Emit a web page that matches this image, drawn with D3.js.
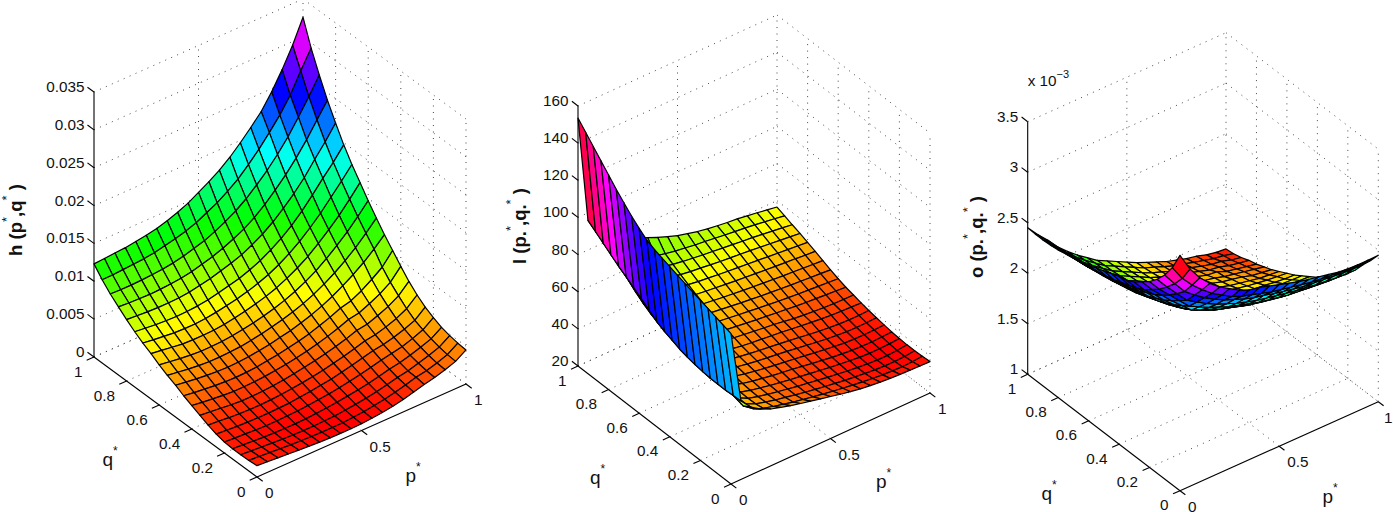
<!DOCTYPE html>
<meta charset="utf-8">
<style>
  body { margin: 0; background: #fff; }
  text { font-family: "Liberation Sans", Arial, sans-serif; fill: #111; }
</style>
<script src="https://d3js.org/d3.v7.min.js"></script>
<svg id="chart" width="1393" height="512"></svg>
<script>
// mesh positions, same for the three surfaces
const pValues = [0,0.05,0.1,0.15,0.2,0.25,0.3,0.35,0.4,0.45,0.5,0.55,0.6,0.65,0.7,0.75,0.8,0.85,0.9,0.95,1];
const qValues = [0,0.05,0.1,0.15,0.2,0.25,0.3,0.35,0.4,0.45,0.5,0.55,0.6,0.65,0.7,0.75,0.8,0.85,0.9,0.95,1];
const pTicks = [0,0.5,1];
const qTicks = [0,0.2,0.4,0.6,0.8,1];
const pTickLabels = ["0","0.5","1"];
const qTickLabels = ["0","0.2","0.4","0.6","0.8","1"];

// h(p*,q*), in units of 0.001. One row per q, one column per p
const hValues = [
[1.5,1.4,1.3,1.2,1.1,1.0,.92,.87,.85,.85,.9,1.0,1.15,1.35,1.65,2.0,2.4,2.7,3.1,3.6,4.5],
[1.4,1.3,1.2,1.1,1.0,.92,.87,.83,.83,.85,.95,1.08,1.27,1.5,1.8,2.15,2.55,2.8,3.2,3.7,4.6],
[1.35,1.25,1.15,1.05,.95,.9,.85,.85,.9,.95,1.1,1.25,1.45,1.7,2.0,2.35,2.6,3.0,3.4,3.9,4.8],
[1.35,1.25,1.15,1.05,1.0,.95,.95,1.0,1.1,1.2,1.35,1.55,1.75,2.0,2.3,2.65,2.9,3.25,3.7,4.2,5.1],
[1.45,1.35,1.3,1.2,1.15,1.15,1.2,1.25,1.35,1.5,1.65,1.85,2.1,2.4,2.7,3.05,3.3,3.6,4.05,4.6,5.6],
[1.7,1.6,1.5,1.45,1.4,1.4,1.45,1.5,1.65,1.8,2.0,2.2,2.5,2.8,3.15,3.5,3.7,4.05,4.5,5.05,6.2],
[2.1,2.0,1.85,1.75,1.7,1.7,1.75,1.85,2.0,2.15,2.35,2.6,2.9,3.2,3.6,4.0,4.2,4.6,5.1,5.8,7.0],
[2.6,2.45,2.3,2.15,2.05,2.05,2.1,2.2,2.35,2.55,2.8,3.05,3.35,3.7,4.1,4.6,4.8,5.3,5.9,6.7,8.0],
[3.1,2.9,2.75,2.6,2.5,2.5,2.55,2.65,2.8,3.0,3.25,3.5,3.85,4.25,4.7,5.25,5.5,6.1,6.8,7.7,9.2],
[3.6,3.4,3.25,3.1,3.0,2.95,3.0,3.1,3.3,3.5,3.75,4.05,4.4,4.85,5.35,5.95,6.3,7.0,7.9,8.9,10.5],
[4.2,4.0,3.8,3.65,3.55,3.5,3.55,3.65,3.85,4.05,4.35,4.65,5.05,5.5,6.05,6.7,7.5,8.35,9.35,10.5,11.8],
[4.7,4.5,4.3,4.15,4.05,4.05,4.1,4.2,4.4,4.65,4.95,5.3,5.7,6.2,6.8,7.55,8.4,9.4,10.5,11.8,13.2],
[5.3,5.1,4.9,4.75,4.65,4.65,4.7,4.85,5.05,5.3,5.6,6.0,6.45,7.0,7.7,8.5,9.5,10.6,11.8,13.2,14.7],
[6.0,5.8,5.6,5.4,5.35,5.35,5.4,5.55,5.8,6.05,6.4,6.8,7.3,7.95,8.7,9.6,10.7,11.9,13.2,14.7,16.3],
[6.6,6.4,6.25,6.1,6.05,6.05,6.15,6.35,6.6,6.9,7.25,7.7,8.25,8.95,9.8,10.8,12.0,13.3,14.8,16.3,17.9],
[7.3,7.15,7.0,6.9,6.85,6.9,7.0,7.2,7.5,7.85,8.2,8.7,9.3,10.1,11.0,12.1,13.4,14.9,16.5,18.0,19.7],
[8.1,8.0,7.9,7.85,7.85,7.9,8.05,8.3,8.6,9.0,9.4,9.9,10.6,11.4,12.4,13.6,14.9,16.4,18.2,19.9,21.8],
[9.0,8.9,8.85,8.8,8.85,8.95,9.1,9.35,9.7,10.1,10.6,11.2,11.9,12.8,13.9,15.2,16.6,18.2,20.0,22.0,24.0],
[9.9,9.85,9.85,9.9,10.0,10.1,10.3,10.6,11.0,11.4,12.0,12.7,13.5,14.5,15.7,17.0,18.5,20.2,22.2,24.3,26.55],
[11.0,11.0,11.1,11.2,11.3,11.5,11.8,12.1,12.5,13.0,13.7,14.4,15.3,16.3,17.6,19.0,20.6,22.3,24.3,26.9,29.3],
[12.3,12.4,12.5,12.6,12.8,13.0,13.3,13.7,14.2,14.8,15.6,16.4,17.3,18.4,19.7,21.1,22.6,24.6,26.9,29.5,32.6]
];

// l(p.*,q.*)
const lValues = [
[101,62.3,56.5,53,50.6,49,47.5,46.2,45,43.8,42.6,41.4,40.3,39.4,38.7,38.1,37.7,37.4,37.2,37,36.9],
[102.3,62,54,50,47.8,46.3,45,43.8,42.7,41.7,40.7,39.8,39,38.2,37.5,36.9,36.4,36.1,35.9,36.1,36.6],
[103.6,61.7,56,49.5,47,45.5,44.2,43.1,42,41,40.1,39.2,38.4,37.6,37,36.4,35.9,35.6,35.5,35.8,36.4],
[104.9,61.7,57,49.5,46.8,45.3,44,43,42,41,40.2,39.3,38.5,37.7,37,36.4,35.9,35.5,35.5,35.8,36.4],
[106.2,61.8,57.5,50,47,45.5,44.3,43.2,42.3,41.4,40.6,39.8,39,38.2,37.5,36.9,36.3,36,36,36.2,36.6],
[107.5,62.2,58,51,47.6,46,44.8,43.8,42.9,42.1,41.4,40.5,39.6,38.8,38,37.4,36.9,36.6,36.5,36.7,37],
[108.8,62.8,58.3,51.8,48.2,46.7,45.5,44.5,43.6,42.8,42.1,41.3,40.5,39.7,38.9,38.2,37.6,37.3,37.2,37.3,37.6],
[110.2,63.6,58.7,52.7,49,47.4,46.2,45.2,44.3,43.6,42.9,42.2,41.4,40.6,39.8,39.1,38.5,38.1,37.9,38,38.3],
[111.6,64.7,59.2,53.5,49.9,48.2,47,46,45.2,44.4,43.8,43.1,42.4,41.6,40.8,40.1,39.5,39,38.8,38.8,39],
[113,66.4,59.8,54.4,50.9,49.1,47.9,47,46.1,45.4,44.9,44.3,43.7,43,42.3,41.7,41.1,40.6,40.3,40.1,39.9],
[114.5,68,60.5,55.4,52,50,49,48.2,47.4,46.7,46,45.3,44.7,43.9,43,42.4,41.9,41.5,41.2,41,41],
[116.4,70,61.5,56.6,53.2,51.2,50.2,49.4,48.6,47.9,47.2,46.5,45.9,45.3,44.7,44.1,43.6,43.2,42.8,42.4,42],
[119.5,73,63,58,54.6,52.6,51.5,50.7,49.9,49.2,48.5,47.9,47.2,46.6,46,45.5,45,44.6,44.2,43.8,43.4],
[123,76,65,59.6,56.1,54.1,53,52.2,51.4,50.7,50,49.3,48.7,48.1,47.6,47.1,46.6,46.2,45.8,45.4,45],
[127,78.7,67.5,61.5,57.9,55.8,54.7,53.8,53,52.3,51.6,51,50.4,49.9,49.4,48.9,48.4,48,47.6,47.2,46.8],
[131,81.5,70.5,63.8,60,57.8,56.6,55.7,54.8,54.1,53.5,52.9,52.3,51.8,51.3,50.8,50.3,49.9,49.5,49,48.6],
[135.6,84,74,66.5,62.3,60,58.8,57.8,56.9,56.1,55.5,54.9,54.3,53.8,53.3,52.8,52.3,51.8,51.3,50.8,50.3],
[140,87,77.5,69.5,65,62.6,61.2,60.1,59.1,58.3,57.7,57,56.4,55.9,55.4,54.9,54.3,53.7,53.1,52.5,51.9],
[144.5,90,81,73,68.2,65.5,63.8,62.6,61.5,60.6,59.9,59.2,58.6,58,57.4,56.8,56.3,55.6,54.9,54.2,53.4],
[149,93,84.5,77,72,68.5,66.7,65.3,64,63,62.2,61.4,60.8,60.1,59.4,58.8,58.2,57.5,56.7,55.9,55],
[153.5,96,88,83,79,76.5,74,72,69.7,67.6,65.7,64.3,63,62,61.2,60.5,60,59.2,58.4,57.5,56.6]
];

// o(p.*,q.*), in units of 0.001
const oValues = [
[3.33,3.15,3.02,2.92,2.84,2.78,2.72,2.68,2.66,2.63,2.6,2.57,2.54,2.52,2.5,2.48,2.46,2.45,2.445,2.445,2.45],
[3.15,3.0,2.89,2.8,2.72,2.66,2.6,2.56,2.53,2.5,2.47,2.45,2.43,2.41,2.39,2.38,2.37,2.36,2.35,2.345,2.34],
[3.02,2.89,2.77,2.69,2.62,2.56,2.51,2.47,2.43,2.4,2.38,2.35,2.33,2.31,2.29,2.28,2.27,2.26,2.25,2.245,2.24],
[2.92,2.8,2.69,2.58,2.52,2.46,2.41,2.37,2.33,2.3,2.27,2.25,2.23,2.21,2.19,2.18,2.16,2.15,2.14,2.135,2.13],
[2.84,2.72,2.62,2.52,2.42,2.37,2.32,2.28,2.24,2.21,2.18,2.15,2.13,2.11,2.09,2.08,2.07,2.06,2.05,2.045,2.04],
[2.78,2.66,2.56,2.46,2.37,2.28,2.24,2.2,2.16,2.13,2.1,2.07,2.05,2.03,2.01,2,1.99,1.98,1.97,1.965,1.96],
[2.72,2.6,2.51,2.41,2.32,2.24,2.18,2.13,2.09,2.06,2.03,2,1.98,1.96,1.94,1.93,1.92,1.91,1.9,1.895,1.89],
[2.68,2.56,2.47,2.37,2.28,2.2,2.13,2.08,2.04,2,1.97,1.94,1.92,1.9,1.88,1.87,1.85,1.84,1.83,1.825,1.82],
[2.66,2.53,2.43,2.33,2.24,2.16,2.09,2.04,1.99,1.95,1.92,1.89,1.87,1.85,1.83,1.81,1.8,1.79,1.78,1.775,1.77],
[2.63,2.5,2.4,2.3,2.21,2.13,2.06,2,1.95,1.91,1.87,1.84,1.82,1.8,1.78,1.76,1.75,1.74,1.73,1.725,1.72],
[2.6,2.47,2.38,2.27,2.18,2.1,2.03,1.97,1.92,1.87,1.84,1.81,1.78,1.76,1.74,1.72,1.7,1.69,1.68,1.675,1.67],
[2.57,2.45,2.35,2.25,2.15,2.07,2,1.94,1.89,1.84,1.81,1.78,1.75,1.72,1.7,1.68,1.66,1.65,1.635,1.625,1.62],
[2.54,2.43,2.33,2.23,2.13,2.05,1.98,1.92,1.87,1.82,1.78,1.75,1.73,1.7,1.67,1.65,1.63,1.615,1.6,1.59,1.58],
[2.52,2.41,2.31,2.21,2.11,2.03,1.96,1.9,1.85,1.8,1.76,1.72,1.7,1.68,1.65,1.62,1.6,1.58,1.56,1.55,1.54],
[2.5,2.39,2.29,2.19,2.09,2.01,1.94,1.88,1.83,1.78,1.74,1.7,1.67,1.65,1.63,1.6,1.58,1.56,1.53,1.515,1.5],
[2.48,2.38,2.28,2.18,2.08,2,1.93,1.87,1.81,1.76,1.72,1.68,1.65,1.62,1.6,1.58,1.55,1.53,1.51,1.49,1.47],
[2.46,2.37,2.27,2.16,2.07,1.99,1.92,1.85,1.8,1.75,1.7,1.66,1.63,1.6,1.58,1.55,1.54,1.5,1.48,1.46,1.44],
[2.45,2.36,2.26,2.15,2.06,1.98,1.91,1.84,1.79,1.74,1.69,1.65,1.615,1.58,1.56,1.53,1.5,1.485,1.455,1.435,1.42],
[2.445,2.35,2.25,2.14,2.05,1.97,1.9,1.83,1.78,1.73,1.68,1.635,1.6,1.56,1.53,1.51,1.48,1.455,1.44,1.41,1.39],
[2.445,2.345,2.245,2.135,2.045,1.965,1.895,1.825,1.775,1.725,1.675,1.625,1.59,1.55,1.515,1.49,1.46,1.435,1.41,1.395,1.37],
[2.45,2.34,2.24,2.13,2.04,1.96,1.89,1.82,1.77,1.72,1.67,1.62,1.58,1.54,1.5,1.47,1.44,1.42,1.39,1.37,1.36]
];

const hTicks = [0,5,10,15,20,25,30,35];
const hTickLabels = ["0","0.005","0.01","0.015","0.02","0.025","0.03","0.035"];
const lTicks = [20,40,60,80,100,120,140,160];
const lTickLabels = ["20","40","60","80","100","120","140","160"];
const oTicks = [1,1.5,2,2.5,3,3.5];
const oTickLabels = ["1","1.5","2","2.5","3","3.5"];

// one entry per subplot: where its box sits on the page
const panels = [
  { values: hValues, zTicks: hTicks, zLabels: hTickLabels, origin: [257,477], pVec: [209,-93], qVec: [-163,-120], zLen: 265,
    title: ["h (p","*",",q","*"," )"], titlePos: [21.5,220], qPos: [102.5,466], pPos: [405.5,482] },
  { values: lValues, zTicks: lTicks, zLabels: lTickLabels, origin: [731,484], pVec: [199,-91], qVec: [-153,-118], zLen: 260,
    title: ["l (p.","*",",q.","*"," )"], titlePos: [526,226], qPos: [590,484], pPos: [876,488] },
  { values: oValues, zTicks: oTicks, zLabels: oTickLabels, origin: [1180,490.7], pVec: [198.3,-89], qVec: [-152.3,-116.4], zLen: 252.6,
    title: ["o (p.","*",",q.","*"," )"], titlePos: [983,237], qPos: [1041.5,500], pPos: [1322.5,503] }
];

const svg = d3.select("#chart");

panels.forEach(function(panel) {
  const g = svg.append("g");
  const zDomain = d3.extent(panel.zTicks);
  const ox = panel.origin[0], oy = panel.origin[1];

  // the box is an oblique projection, so screen x and y are sums of scales
  const xFromP = d3.scaleLinear().domain([0,1]).range([0, panel.pVec[0]]);
  const yFromP = d3.scaleLinear().domain([0,1]).range([0, panel.pVec[1]]);
  const xFromQ = d3.scaleLinear().domain([0,1]).range([0, panel.qVec[0]]);
  const yFromQ = d3.scaleLinear().domain([0,1]).range([0, panel.qVec[1]]);
  const yFromZ = d3.scaleLinear().domain(zDomain).range([0, -panel.zLen]);
  const project = function(p, q, z) {
    return [ox + xFromP(p) + xFromQ(q), oy + yFromP(p) + yFromQ(q) + yFromZ(z)];
  };
  const line = d3.line();

  // dotted box grid, floor and the two back walls
  const gridLines = [];
  panel.zTicks.forEach(function(z) {
    gridLines.push([project(0,1,z), project(1,1,z)]);
    gridLines.push([project(1,1,z), project(1,0,z)]);
  });
  pTicks.forEach(function(p) {
    if (p > 0) gridLines.push([project(p,0,zDomain[0]), project(p,1,zDomain[0])]);
    if (p > 0) gridLines.push([project(p,1,zDomain[0]), project(p,1,zDomain[1])]);
  });
  qTicks.forEach(function(q) {
    if (q > 0) gridLines.push([project(0,q,zDomain[0]), project(1,q,zDomain[0])]);
    if (q < 1) gridLines.push([project(1,q,zDomain[0]), project(1,q,zDomain[1])]);
  });
  g.append("g").selectAll("path").data(gridLines).enter().append("path")
    .attr("d", line)
    .attr("fill", "none")
    .attr("stroke", "#333")
    .attr("stroke-width", 0.9)
    .attr("stroke-dasharray", "1 5.5");

  // axis lines and ticks
  const axisLines = [
    [project(0,1,zDomain[0]), project(0,1,zDomain[1])],
    [project(0,0,zDomain[0]), project(1,0,zDomain[0])],
    [project(0,0,zDomain[0]), project(0,1,zDomain[0])]
  ];
  panel.zTicks.forEach(function(z) { axisLines.push([project(0,1,z), project(0,1.04,z)]); });
  pTicks.forEach(function(p) { axisLines.push([project(p,0,zDomain[0]), project(p,-0.035,zDomain[0])]); });
  qTicks.forEach(function(q) { axisLines.push([project(0,q,zDomain[0]), project(-0.035,q,zDomain[0])]); });
  g.append("g").selectAll("path").data(axisLines).enter().append("path")
    .attr("d", line)
    .attr("fill", "none")
    .attr("stroke", "#000")
    .attr("stroke-width", 1.1);

  // surface: back to front over the mesh, colour from the lowest corner of each cell like flat shading
  const all = d3.merge(panel.values);
  const hue = d3.scaleLinear().domain(d3.extent(all)).range([0, 360 * 63 / 64]);
  const cells = [];
  for (let i = pValues.length - 2; i >= 0; i--) {
    for (let j = qValues.length - 2; j >= 0; j--) {
      cells.push({i: i, j: j});
    }
  }
  const z = panel.values;
  g.append("g").selectAll("path").data(cells).enter().append("path")
    .attr("d", function(c) {
      const i = c.i, j = c.j;
      return line([
        project(pValues[i], qValues[j], z[j][i]),
        project(pValues[i+1], qValues[j], z[j][i+1]),
        project(pValues[i+1], qValues[j+1], z[j+1][i+1]),
        project(pValues[i], qValues[j+1], z[j+1][i])
      ]) + "Z";
    })
    .attr("fill", function(c) { return d3.hsl(hue(z[c.j][c.i]), 1, 0.5).toString(); })
    .attr("stroke", "#000")
    .attr("stroke-width", 1.2)
    .attr("stroke-linejoin", "round");

  // tick labels
  g.append("g").selectAll("text").data(panel.zTicks).enter().append("text")
    .attr("x", project(0,1,zDomain[0])[0] - 9.5)
    .attr("y", function(d) { return project(0,1,d)[1] - 5.5; })
    .attr("dy", "0.36em")
    .attr("text-anchor", "end")
    .style("font-size", "15.3px")
    .text(function(d, i) { return panel.zLabels[i]; });
  g.append("g").selectAll("text").data(qTicks).enter().append("text")
    .attr("x", function(d) { return project(0,d,zDomain[0])[0] - 11.5; })
    .attr("y", function(d) { return project(0,d,zDomain[0])[1] + 14; })
    .attr("dy", "0.36em")
    .attr("text-anchor", "end")
    .style("font-size", "15.3px")
    .text(function(d, i) { return qTickLabels[i]; });
  g.append("g").selectAll("text").data(pTicks).enter().append("text")
    .attr("x", function(d) { return Math.min(project(d,0,zDomain[0])[0] + 8, 1384); })
    .attr("y", function(d) { return project(d,0,zDomain[0])[1] + 15.5; })
    .attr("dy", "0.36em")
    .style("font-size", "15.3px")
    .text(function(d, i) { return pTickLabels[i]; });

  // q* and p* labels
  [["q", panel.qPos], ["p", panel.pPos]].forEach(function(a) {
    const t = g.append("text").attr("x", a[1][0]).attr("y", a[1][1]).style("font-size", "19px");
    t.append("tspan").text(a[0]);
    t.append("tspan").attr("dy", -11).style("font-size", "12px").text("*");
  });

  // rotated bold title with raised stars
  const title = g.append("text")
    .attr("transform", "translate(" + panel.titlePos[0] + "," + panel.titlePos[1] + ") rotate(-90)")
    .attr("text-anchor", "middle")
    .style("font-size", "18.5px")
    .style("font-weight", "bold")
    .style("white-space", "pre");
  panel.title.forEach(function(part, n) {
    const star = part === "*";
    title.append("tspan")
      .attr("dy", star ? -11 : (n ? 11 : 0))
      .style("font-size", star ? "13px" : "18.5px")
      .style("font-weight", star ? "normal" : "bold")
      .text(part);
  });
});

// exponent note of the third subplot
const note = svg.append("text").attr("x", 1027.7).attr("y", 86).style("font-size", "15.3px");
note.append("tspan").text("x 10");
note.append("tspan").attr("dy", -8).style("font-size", "11px").text("\u22123");
</script>
